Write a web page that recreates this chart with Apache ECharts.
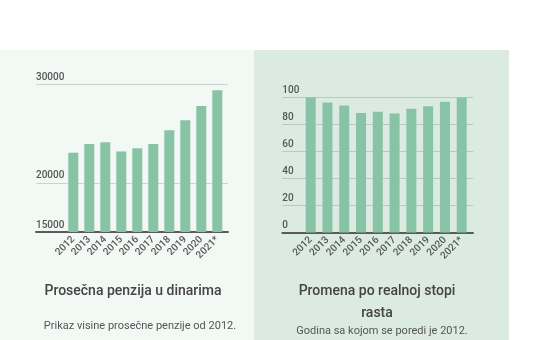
<!DOCTYPE html>
<html><head><meta charset="utf-8">
<script src="https://cdn.jsdelivr.net/npm/echarts@6/dist/echarts.min.js"></script>
<style>html,body{margin:0;padding:0;background:#fff}#c{width:540px;height:340px}</style>
</head><body><div id="c"></div>
<script>
const years = ['2012','2013','2014','2015','2016','2017','2018','2019','2020','2021*'];
const pensionValues = [23060, 23950, 24120, 23190, 23510, 23950, 25340, 26360, 27810, 29410];
const realGrowthValues = [100, 96.3, 94.1, 88.6, 89.4, 88.1, 91.6, 93.6, 96.8, 100.5];
const pensionTicks = [15000, 20000, 30000];
const growthTicks = [0, 20, 40, 60, 80, 100];
const leftTitle = 'Prosečna penzija u dinarima';
const leftSub = 'Prikaz visine prosečne penzije od 2012.';
const rightTitle = 'Promena po realnoj stopi\nrasta';
const rightSub = 'Godina sa kojom se poredi je 2012.';

const FONT = 'Roboto';
const BAR = '#87c3a5';
const GRIDC = 'rgba(60,80,70,0.22)';
const BASE = '#5a5a5a';
const LBL = '#555';

const chart = echarts.init(document.getElementById('c'), null, {renderer: 'canvas'});

function frameY(min, max, interval, ticks, gridIndex, colors) {
  return {
    type: 'value', gridIndex, min, max, interval,
    axisLine: {show: false}, axisTick: {show: false},
    axisLabel: {
      inside: true, margin: 0, align: 'left', verticalAlign: 'bottom',
      padding: [0, 0, 2, 0],
      color: LBL, fontFamily: FONT, fontSize: 10, fontWeight: 500,
      formatter: v => ticks.indexOf(v) >= 0 ? String(v) : ''
    },
    splitLine: {show: true, lineStyle: {color: colors, width: 1}}
  };
}
function hiddenY(min, max, gridIndex) {
  return {type: 'value', gridIndex, min, max, show: false, splitLine: {show: false}};
}
function catX(gridIndex) {
  return {
    type: 'category', gridIndex, data: years,
    axisLine: {show: false}, axisTick: {show: false},
    axisLabel: {rotate: 45, interval: 0, margin: 6, color: LBL, fontFamily: FONT, fontSize: 10, fontWeight: 500}
  };
}
function baseX(gridIndex) {
  return {
    type: 'value', gridIndex, min: 0, max: 1,
    axisLine: {show: true, onZero: false, lineStyle: {color: BASE, width: 2}},
    axisTick: {show: false}, axisLabel: {show: false}, splitLine: {show: false}
  };
}

chart.setOption({
  animation: false,
  graphic: [
    {type: 'rect', shape: {x: 0, y: 50, width: 254, height: 290}, style: {fill: '#f2f8f4'}, z: -10, silent: true},
    {type: 'rect', shape: {x: 254, y: 50, width: 255, height: 290}, style: {fill: '#dbebe2'}, z: -10, silent: true},
    {type: 'text', x: 133, y: 284, style: {text: leftTitle, textAlign: 'center', fill: '#444', font: '500 14px ' + FONT}},
    {type: 'text', x: 140, y: 321, style: {text: leftSub, textAlign: 'center', fill: '#555', font: '400 11px ' + FONT}},
    {type: 'text', x: 377, y: 280, style: {text: rightTitle, textAlign: 'center', fill: '#444', font: '500 14px ' + FONT, lineHeight: 22}},
    {type: 'text', x: 382, y: 326, style: {text: rightSub, textAlign: 'center', fill: '#555', font: '400 11px ' + FONT}}
  ],
  grid: [
    {left: 65.3, top: 84.5, width: 160, height: 147.5},
    {left: 36, top: 84.5, width: 192, height: 147.5},
    {left: 302.3, top: 97.5, width: 167.8, height: 135},
    {left: 282.3, top: 97.5, width: 190.7, height: 135}
  ],
  xAxis: [catX(0), baseX(1), catX(2), baseX(3)],
  yAxis: [
    hiddenY(15000, 30000, 0),
    frameY(15000, 30000, 5000, pensionTicks, 1, [GRIDC, GRIDC, 'rgba(0,0,0,0)', GRIDC]),
    hiddenY(0, 100, 2),
    frameY(0, 100, 20, growthTicks, 3, GRIDC)
  ],
  series: [
    {type: 'bar', xAxisIndex: 0, yAxisIndex: 0, data: pensionValues, barWidth: 10, itemStyle: {color: BAR}, z: 3, silent: true},
    {type: 'bar', xAxisIndex: 2, yAxisIndex: 2, data: realGrowthValues, barWidth: 10, itemStyle: {color: BAR}, z: 3, silent: true}
  ]
});
</script></body></html>
